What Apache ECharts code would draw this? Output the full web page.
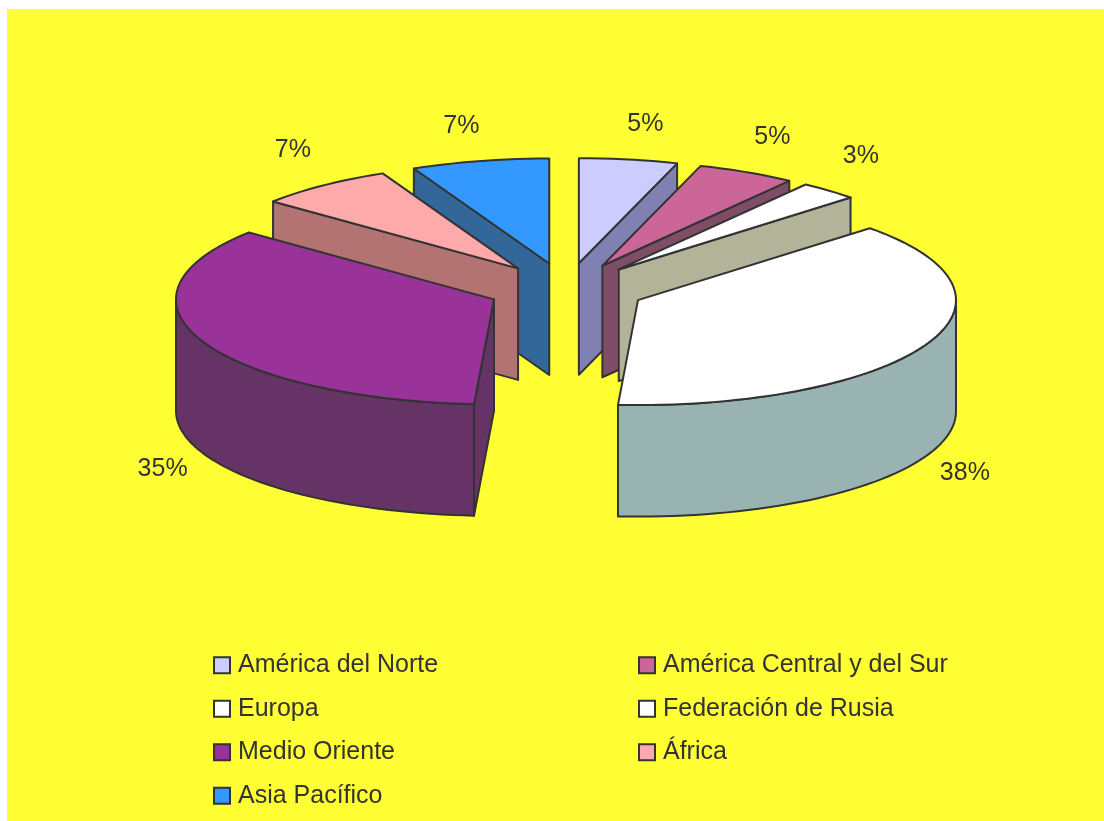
<!DOCTYPE html>
<html><head><meta charset="utf-8">
<style>html,body{margin:0;padding:0;background:#fff}#c{width:1104px;height:821px}</style>
<script src="https://cdn.jsdelivr.net/npm/echarts@6/dist/echarts.min.js"></script>
</head><body><div id="c"></div>
<script>
const regions = ['América del Norte','América Central y del Sur','Europa','Federación de Rusia','Medio Oriente','África','Asia Pacífico'];
const shares = [5,5,3,38,35,7,7];
const topColors = ['#CCCCFF','#CC6699','#FFFFFF','#FFFFFF','#993399','#FFAAAA','#3399FF'];
const sideColors = ['#8080B3','#804D66','#B3B399','#99B3B3','#663366','#B37373','#336699'];
const legendLeft = ['América del Norte','Europa','Medio Oriente','Asia Pacífico'];
const legendRight = ['América Central y del Sur','Federación de Rusia','África'];

const CX=566.5, CY=289, RX=318, RY=105, DEPTH=111.5, EXPLODE=79;
const INK='#333333', FONT='25px "Liberation Sans", Arial, sans-serif';
const total = shares.reduce((a,b)=>a+b,0);
const rad = d => d*Math.PI/180;
let cum = 0;
const slices = shares.map(v=>{const s=cum/total*360; cum+=v; const e=cum/total*360; return {s,e,m:(s+e)/2};});
const order = slices.map((o,i)=>[Math.cos(rad(o.m)),i]).sort((a,b)=>b[0]-a[0]).map(a=>a[1]);

function renderItem(params, api){
  const i = params.seriesIndex, o = slices[i];
  const ax = CX+EXPLODE*Math.sin(rad(o.m)), ay = CY-EXPLODE*(RY/RX)*Math.cos(rad(o.m));
  const pt = (deg,h=0)=>[ax+RX*Math.sin(rad(deg)), ay-RY*Math.cos(rad(deg))+h];
  const arc = (a,b,h=0)=>{const out=[],n=Math.max(2,Math.ceil((b-a)/2));for(let k=0;k<=n;k++)out.push(pt(a+(b-a)*k/n,h));return out;};
  const poly = (points,fill)=>({type:'polygon',shape:{points},style:{fill,stroke:INK,lineWidth:2,lineJoin:'round'}});
  const children = [];
  const side = sideColors[i];
  const lo = Math.max(o.s,90), hi = Math.min(o.e,270);
  if(hi>lo) children.push(poly(arc(lo,hi).concat(arc(lo,hi,DEPTH).reverse()),side));
  if(Math.sin(rad(o.s))<-1e-6) children.push(poly([[ax,ay],pt(o.s),pt(o.s,DEPTH),[ax,ay+DEPTH]],side));
  if(Math.sin(rad(o.e))>1e-6) children.push(poly([[ax,ay],pt(o.e),pt(o.e,DEPTH),[ax,ay+DEPTH]],side));
  children.push(poly([[ax,ay]].concat(arc(o.s,o.e)),topColors[i]));
  const sn = Math.sin(rad(o.m)), cs = Math.cos(rad(o.m));
  const edge = pt(o.m, cs<0?DEPTH:0);
  children.push({type:'text',style:{
    text:api.value(0)+'%',x:edge[0]+Math.sign(sn)*(12+30*Math.abs(sn)),y:edge[1]+(cs<0?17:-35),
    fill:INK,font:FONT,textAlign:'center',textVerticalAlign:'middle'}});
  return {type:'group',children};
}

const legendData = names => names.map(n=>{const i=regions.indexOf(n);return {name:n,icon:'rect',itemStyle:{color:topColors[i],borderColor:INK,borderWidth:2}};});
const legendBase = {orient:'vertical',selectedMode:false,itemWidth:16,itemHeight:16,itemGap:15,
  textStyle:{color:INK,font:FONT,fontFamily:'"Liberation Sans", Arial, sans-serif',fontSize:25,lineHeight:28.5,padding:[0,0,0,3]}};

const chart = echarts.init(document.getElementById('c'),null,{renderer:'canvas'});
chart.setOption({
  animation:false,
  backgroundColor:'#FFFFFF',
  graphic:[{type:'rect',z:-10,silent:true,shape:{x:7,y:9,width:1097,height:812},style:{fill:'#FFFF33'}}],
  legend:[
    Object.assign({},legendBase,{left:208,top:646,data:legendData(legendLeft)}),
    Object.assign({},legendBase,{left:633,top:646,data:legendData(legendRight)})
  ],
  series:regions.map((name,i)=>({
    type:'custom',name,coordinateSystem:'none',z:2+order.indexOf(i),
    renderItem,data:[[shares[i]]],silent:true
  }))
});
</script></body></html>
